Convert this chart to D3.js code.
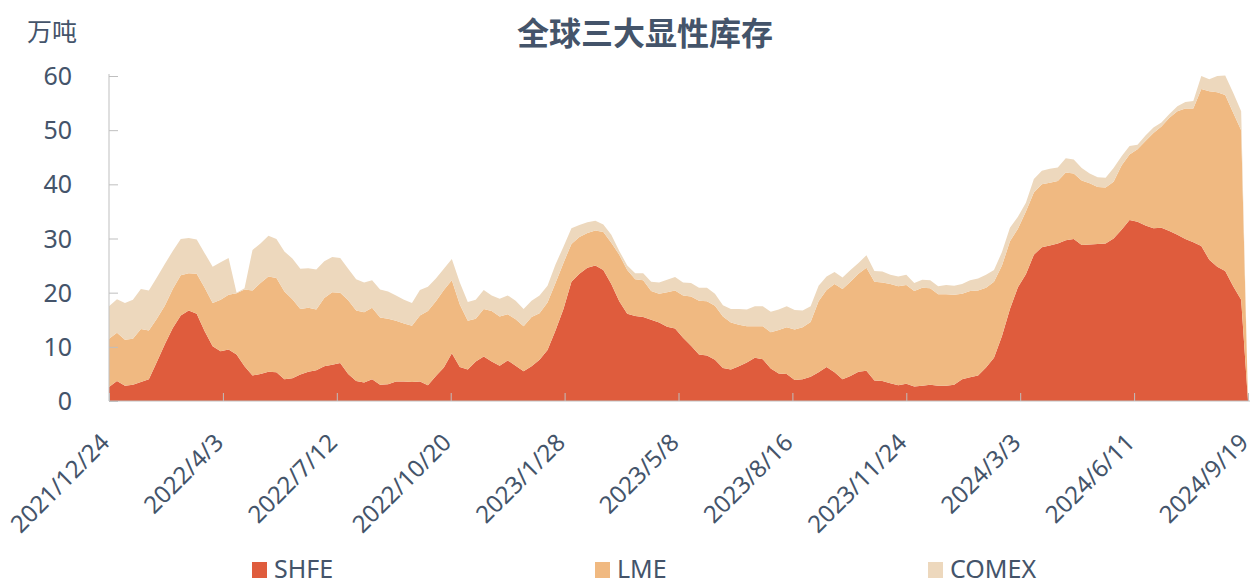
<!DOCTYPE html>
<html>
<head>
<meta charset="utf-8">
<script src="https://cdn.jsdelivr.net/npm/d3@7"></script>
<style>
  body { margin: 0; background: #fff; }
  svg text { font-family: "Noto Sans", "Noto Sans CJK SC", sans-serif; fill: #44546a; }
</style>
</head>
<body>
<svg id="chart" width="1254" height="584"></svg>
<script>
// weekly stocks, 万吨 (2021/12/24 ... 2024/9/13, then 2024/9/19)
var shfe = [2.6,3.7,2.8,3.0,3.5,4.0,7.2,10.5,13.5,15.8,16.7,16.1,12.9,10.1,9.2,9.5,8.6,6.4,4.7,5.0,
  5.4,5.3,4.0,4.2,4.9,5.4,5.7,6.4,6.7,7.0,5.0,3.7,3.4,4.0,3.0,3.1,3.6,3.6,3.5,3.6,
  2.9,4.6,6.2,8.8,6.3,5.8,7.3,8.2,7.3,6.5,7.5,6.5,5.5,6.4,7.6,9.4,13.0,17.0,22.0,23.5,
  24.6,25.0,24.2,21.6,18.4,16.1,15.7,15.5,15.0,14.5,13.7,13.4,11.7,10.2,8.6,8.4,7.6,6.1,5.8,6.4,
  7.1,8.0,7.7,6.0,5.1,5.0,3.9,4.0,4.5,5.3,6.3,5.3,4.0,4.6,5.4,5.6,3.8,3.7,3.3,2.9,
  3.2,2.7,2.8,3.0,2.8,2.8,3.0,4.0,4.4,4.7,6.2,8.0,12.0,17.0,21.0,23.4,27.0,28.4,28.7,29.1,
  29.7,29.9,28.8,28.9,29.0,29.1,30.0,31.6,33.4,33.1,32.4,31.9,32.0,31.4,30.7,29.9,29.3,28.6,26.1,24.8,
  24.0,21.2,18.7,0];
var lme = [8.9,8.9,8.5,8.5,9.8,9.0,8.0,7.1,7.2,7.4,6.9,7.4,8.0,8.0,9.5,10.1,11.3,14.2,15.7,16.8,
  17.6,17.4,16.2,14.6,12.1,11.8,11.2,12.6,13.4,13.0,13.6,13.0,13.0,13.2,12.4,12.1,11.2,10.7,10.4,12.2,
  13.7,13.8,14.3,13.5,11.5,9.0,7.9,8.8,9.3,9.1,8.5,8.6,8.3,9.1,8.6,8.8,8.8,8.5,7.0,6.8,
  6.4,6.5,7.0,7.6,8.6,8.1,6.8,6.8,5.3,5.3,6.4,7.0,7.8,9.1,9.9,10.0,10.0,9.5,8.7,7.7,
  6.7,5.8,6.1,6.7,8.0,8.6,9.3,9.6,10.1,13.1,14.2,16.3,16.7,17.4,18.1,19.0,18.2,18.2,18.3,18.3,
  18.2,17.6,18.1,17.8,16.9,16.9,16.6,15.8,15.9,15.7,14.7,14.0,13.0,12.5,10.8,11.6,11.5,11.6,11.6,11.5,
  12.5,12.1,11.9,11.3,10.5,10.3,10.5,11.9,12.1,13.4,15.6,17.6,18.7,20.9,22.8,24.1,24.7,29.0,31.1,32.2,
  32.5,32.0,31.3,0];
var comex = [6.0,6.2,6.8,7.2,7.4,7.4,7.6,7.7,7.0,6.7,6.5,6.3,6.4,6.7,6.9,6.8,0.1,0.2,7.5,7.3,
  7.5,7.2,7.4,7.5,7.4,7.3,7.4,6.8,6.5,6.4,5.8,5.8,5.5,5.1,5.2,5.0,4.7,4.4,4.2,4.7,
  4.5,4.2,3.9,3.9,4.1,3.5,3.5,3.5,2.9,3.3,3.5,3.4,3.2,3.0,3.3,3.1,3.4,3.0,2.9,2.2,
  2.0,1.8,1.4,1.5,0.7,0.8,1.1,1.3,1.7,2.1,2.3,2.5,2.4,2.5,2.4,2.5,2.2,2.1,2.5,2.9,
  3.1,3.7,3.7,3.8,3.8,3.9,3.6,3.1,2.9,2.9,2.5,2.2,2.1,2.2,2.0,2.3,2.0,2.0,1.7,1.8,
  1.9,1.5,1.5,1.5,1.5,1.7,1.7,1.8,2.0,2.2,2.4,2.2,2.5,2.5,2.2,1.6,2.5,2.5,2.6,2.5,
  2.6,2.6,2.3,1.8,1.8,1.8,2.5,1.7,1.6,0.8,1.0,1.0,0.7,0.7,0.9,1.2,1.4,2.4,2.2,3.0,
  3.6,3.7,3.5,0];
var seriesNames = ["SHFE", "LME", "COMEX"];
var seriesColors = ["#df5c3d", "#f0b981", "#edd8bd"];
var yTicks = [0, 10, 20, 30, 40, 50, 60];
var startDate = new Date(2021, 11, 24);
var endDate = new Date(2024, 8, 19);

var dates = shfe.map(function(d, i) {
  return i === shfe.length - 1 ? endDate : d3.timeDay.offset(startDate, 7 * i);
});
var rows = dates.map(function(d, i) {
  return { date: d, SHFE: shfe[i], LME: lme[i], COMEX: comex[i] };
});

var svg = d3.select('#chart');
var x = d3.scaleTime().domain([startDate, endDate]).range([109, 1248]);
var y = d3.scaleLinear().domain([0, 60]).range([401, 76]);

var stacked = d3.stack().keys(seriesNames)(rows);
var area = d3.area()
  .x(function(d) { return x(d.data.date); })
  .y0(function(d) { return y(d[0]); })
  .y1(function(d) { return y(d[1]); });

svg.selectAll('path.layer').data(stacked).enter()
  .append('path')
  .attr('class', 'layer')
  .attr('fill', function(d, i) { return seriesColors[i]; })
  .attr('d', area);

// y axis (ticks point into the plot)
var yAxis = svg.append('g').attr('transform', 'translate(109,0)')
  .call(d3.axisRight(y).tickValues(yTicks).tickSize(9).tickFormat(''));
yAxis.select('.domain').attr('stroke', '#bfbfbf').attr('d', 'M0,' + y(0) + 'V' + (y(60) - 2));
yAxis.selectAll('.tick line').attr('stroke', '#bfbfbf');

svg.selectAll('text.ylab').data(yTicks).enter()
  .append('text')
  .attr('class', 'ylab')
  .attr('x', 72)
  .attr('y', function(d) { return y(d) + 9; })
  .attr('text-anchor', 'end')
  .attr('font-size', '25px')
  .text(function(d) { return d; });

// x axis
var xTicks = d3.range(0, 11).map(function(k) { return d3.timeDay.offset(startDate, 100 * k); });
var fmt = d3.timeFormat('%Y/%-m/%-d');
var xAxis = svg.append('g').attr('transform', 'translate(0,' + y(0) + ')')
  .call(d3.axisTop(x).tickValues(xTicks).tickSize(8).tickFormat(''));
xAxis.select('.domain').attr('stroke', '#bfbfbf').attr('d', 'M109,0H1250');
xAxis.selectAll('.tick line').attr('stroke', '#bfbfbf');

svg.selectAll('text.xlab').data(xTicks).enter()
  .append('text')
  .attr('class', 'xlab')
  .attr('text-anchor', 'end')
  .attr('font-size', '24px')
  .attr('transform', function(d) {
    return 'translate(' + (x(d) + 2) + ',' + (y(0) + 43) + ') rotate(-45)';
  })
  .text(function(d) { return fmt(d); });

// title and unit
svg.append('text').attr('x', 645).attr('y', 45)
  .attr('text-anchor', 'middle').attr('font-size', '32px').attr('font-weight', 'bold')
  .style('font-family', '"Noto Sans CJK SC", sans-serif')
  .text('全球三大显性库存');
svg.append('text').attr('x', 27).attr('y', 41)
  .attr('font-size', '25px')
  .style('font-family', '"Noto Sans CJK SC", sans-serif')
  .text('万吨');

// legend
var legendX = [252, 595, 928];
var legend = svg.selectAll('g.legend').data(seriesNames).enter()
  .append('g').attr('class', 'legend')
  .attr('transform', function(d, i) { return 'translate(' + legendX[i] + ',562)'; });
legend.append('rect').attr('width', 15).attr('height', 16)
  .attr('fill', function(d, i) { return seriesColors[i]; });
legend.append('text').attr('x', 22).attr('y', 16)
  .attr('font-size', '25px')
  .text(function(d) { return d; });
</script>
</body>
</html>
